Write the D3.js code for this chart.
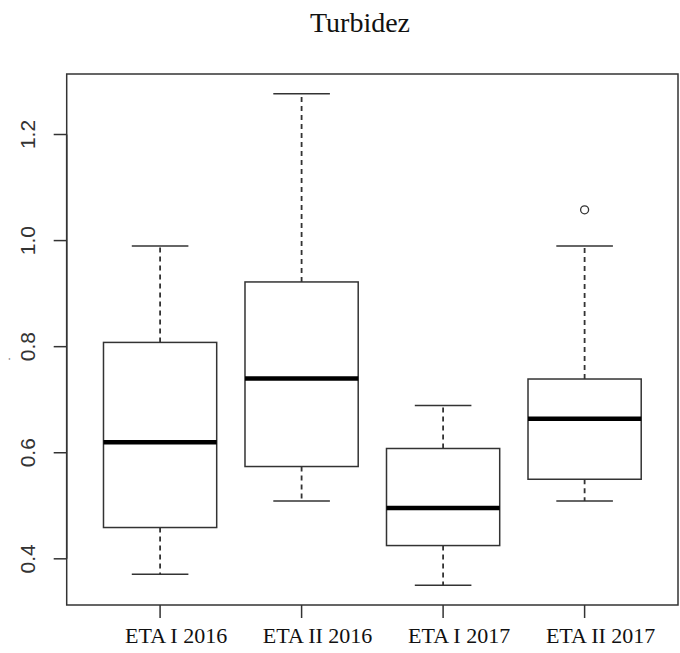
<!DOCTYPE html>
<html lang="en">
<head>
    <meta charset="UTF-8">
    <title>Turbidez</title>
    <script src="https://d3js.org/d3.v7.min.js"></script>
    <style>
        body{
            margin: 0;
            background: white;
        }
        .ylab{
            font-family: "Liberation Sans", Arial, sans-serif;
            font-size: 21px;
            fill: #333;
        }
        .xlab{
            font-family: "Liberation Serif", "Times New Roman", serif;
            font-size: 22px;
            fill: #111;
        }
    </style>
</head>
<body>

<script>
    // values
    const categories = ["ETA I 2016", "ETA II 2016", "ETA I 2017", "ETA II 2017"]
    const lowerWhisker = [0.371, 0.509, 0.350, 0.509]
    const q1 = [0.459, 0.574, 0.425, 0.550]
    const medians = [0.620, 0.740, 0.496, 0.664]
    const q3 = [0.808, 0.922, 0.608, 0.739]
    const upperWhisker = [0.990, 1.277, 0.689, 0.990]
    const outliers = [[], [], [], [1.058]]
    const yTicks = [0.4, 0.6, 0.8, 1.0, 1.2]

    const W = 680, H = 653
    const plotL = 66.7, plotR = 678, plotT = 74, plotB = 605
    const ink = "#333"

    const svg = d3.select("body").append("svg")
        .attr("width", W)
        .attr("height", H)

    // R style: 4% padding around the data range
    const lo = d3.min(lowerWhisker), hi = d3.max(upperWhisker.concat(outliers.flat()))
    const pad = (hi - lo) * 0.04
    const n = categories.length
    const xpad = n * 0.04

    const x = d3.scaleLinear().domain([0.5 - xpad, n + 0.5 + xpad]).range([plotL, plotR])
    const y = d3.scaleLinear().domain([lo - pad, hi + pad]).range([plotB, plotT])

    const boxes = categories.map((c, i) => ({
        name: c, pos: i + 1,
        lw: lowerWhisker[i], q1: q1[i], med: medians[i], q3: q3[i], uw: upperWhisker[i],
        out: outliers[i]
    }))

    const halfBox = 0.4, halfCap = 0.2

    const g = svg.selectAll(".box")
        .data(boxes)
        .enter()
        .append("g")
        .attr("class", "box")

    // whiskers
    g.append("line")
        .attr("x1", d => x(d.pos)).attr("x2", d => x(d.pos))
        .attr("y1", d => y(d.q3)).attr("y2", d => y(d.uw))
        .attr("stroke", ink).attr("stroke-width", 1.8).attr("stroke-dasharray", "5,4")
    g.append("line")
        .attr("x1", d => x(d.pos)).attr("x2", d => x(d.pos))
        .attr("y1", d => y(d.q1)).attr("y2", d => y(d.lw))
        .attr("stroke", ink).attr("stroke-width", 1.8).attr("stroke-dasharray", "5,4")

    // caps
    g.append("line")
        .attr("x1", d => x(d.pos - halfCap)).attr("x2", d => x(d.pos + halfCap))
        .attr("y1", d => y(d.uw)).attr("y2", d => y(d.uw))
        .attr("stroke", ink).attr("stroke-width", 1.5)
    g.append("line")
        .attr("x1", d => x(d.pos - halfCap)).attr("x2", d => x(d.pos + halfCap))
        .attr("y1", d => y(d.lw)).attr("y2", d => y(d.lw))
        .attr("stroke", ink).attr("stroke-width", 1.5)

    // box
    g.append("rect")
        .attr("x", d => x(d.pos - halfBox))
        .attr("width", d => x(d.pos + halfBox) - x(d.pos - halfBox))
        .attr("y", d => y(d.q3))
        .attr("height", d => y(d.q1) - y(d.q3))
        .attr("fill", "white")
        .attr("stroke", ink).attr("stroke-width", 1.5)

    // median
    g.append("line")
        .attr("x1", d => x(d.pos - halfBox)).attr("x2", d => x(d.pos + halfBox))
        .attr("y1", d => y(d.med)).attr("y2", d => y(d.med))
        .attr("stroke", "black").attr("stroke-width", 4.5)

    // outliers
    g.selectAll(".out")
        .data(d => d.out.map(v => ({pos: d.pos, v: v})))
        .enter()
        .append("circle")
        .attr("cx", d => x(d.pos))
        .attr("cy", d => y(d.v))
        .attr("r", 4)
        .attr("fill", "none")
        .attr("stroke", ink).attr("stroke-width", 1.3)

    // frame
    svg.append("rect")
        .attr("x", plotL).attr("y", plotT)
        .attr("width", plotR - plotL).attr("height", plotB - plotT)
        .attr("fill", "none")
        .attr("stroke", ink).attr("stroke-width", 1.5)

    // y axis
    const yAxis = svg.append("g")
    yAxis.append("line")
        .attr("x1", plotL).attr("x2", plotL)
        .attr("y1", y(yTicks[0])).attr("y2", y(yTicks[yTicks.length - 1]))
        .attr("stroke", ink).attr("stroke-width", 1.5)
    yAxis.selectAll(".ytick")
        .data(yTicks)
        .enter()
        .append("line")
        .attr("x1", plotL - 13).attr("x2", plotL)
        .attr("y1", d => y(d)).attr("y2", d => y(d))
        .attr("stroke", ink).attr("stroke-width", 1.5)
    yAxis.selectAll(".ylab")
        .data(yTicks)
        .enter()
        .append("text")
        .attr("class", "ylab")
        .attr("text-anchor", "middle")
        .attr("transform", d => "translate(35," + y(d) + ") rotate(-90)")
        .text(d => d3.format(".1f")(d))

    // x axis
    svg.selectAll(".xtick")
        .data(boxes)
        .enter()
        .append("line")
        .attr("x1", d => x(d.pos)).attr("x2", d => x(d.pos))
        .attr("y1", plotB).attr("y2", plotB + 13)
        .attr("stroke", ink).attr("stroke-width", 1.5)
    svg.selectAll(".xlab")
        .data(boxes)
        .enter()
        .append("text")
        .attr("class", "xlab")
        .attr("text-anchor", "middle")
        .attr("x", d => x(d.pos) + 16)
        .attr("y", 643)
        .text(d => d.name)

    // y label (just a dot in the original)
    svg.append("text")
        .attr("font-family", "'Liberation Sans', Arial, sans-serif")
        .attr("font-size", 11)
        .attr("fill", "#333")
        .attr("text-anchor", "middle")
        .attr("transform", "translate(10,359) rotate(-90)")
        .text(".")

    // title
    svg.append("text")
        .attr("x", 360)
        .attr("y", 32)
        .attr("text-anchor", "middle")
        .attr("font-family", "'Liberation Serif', 'Times New Roman', serif")
        .attr("font-size", 28)
        .attr("fill", "#111")
        .text("Turbidez")
</script>
</body>
</html>
